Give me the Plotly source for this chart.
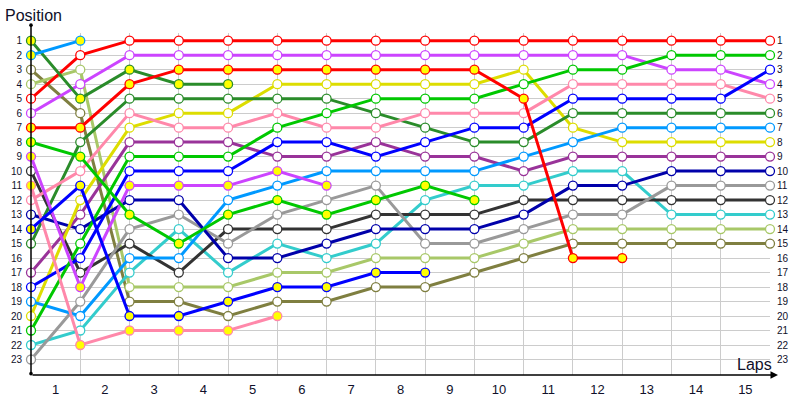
import plotly.graph_objects as go

# ---------------- data ----------------
laps = list(range(16))
x_tick_vals = [i + 0.5 for i in range(15)]
x_tick_labels = [str(i) for i in range(1, 16)]
y_tick_vals = list(range(1, 24))

# finishers (positions for laps 0..15)
pos_red = [5, 2, 1, 1, 1, 1, 1, 1, 1, 1, 1, 1, 1, 1, 1, 1]
pos_lime = [21, 15, 9, 9, 9, 7, 6, 5, 5, 5, 4, 3, 3, 2, 2, 2]
pos_blue = [18, 16, 10, 10, 10, 8, 8, 9, 8, 7, 7, 5, 5, 5, 5, 3]
pos_magenta = [6, 4, 2, 2, 2, 2, 2, 2, 2, 2, 2, 2, 2, 3, 3, 4]
pos_pink = [12, 10, 6, 7, 7, 6, 7, 7, 6, 6, 6, 4, 4, 4, 4, 5]
pos_forest = [15, 8, 5, 5, 5, 5, 5, 6, 7, 8, 8, 6, 6, 6, 6, 6]
pos_sky = [19, 20, 16, 16, 12, 11, 10, 10, 10, 10, 9, 8, 7, 7, 7, 7]
pos_yellow = [20, 12, 7, 6, 6, 4, 4, 4, 4, 4, 3, 7, 8, 8, 8, 8]
pos_purple = [17, 13, 8, 8, 8, 9, 9, 8, 9, 9, 10, 9, 9, 9, 9, 9]
pos_navy = [13, 14, 12, 12, 16, 16, 15, 14, 14, 14, 13, 11, 11, 10, 10, 10]
pos_gray = [23, 19, 14, 13, 15, 13, 12, 11, 15, 15, 14, 13, 13, 11, 11, 11]
pos_black = [10, 17, 15, 17, 14, 14, 14, 13, 13, 13, 12, 12, 12, 12, 12, 12]
pos_turquoise = [22, 21, 17, 14, 17, 15, 16, 15, 12, 11, 11, 10, 10, 13, 13, 13]
pos_lightolive = [4, 3, 18, 18, 18, 17, 17, 16, 16, 16, 15, 14, 14, 14, 14, 14]
pos_olive = [3, 6, 19, 19, 20, 19, 19, 18, 18, 17, 16, 15, 15, 15, 15, 15]

# retired drivers (positions from lap 0 until retirement)
pos_forest_dnf = [1, 5, 3, 4, 4]
pos_sky_dnf = [2, 1]
pos_red_dnf = [7, 7, 4, 3, 3, 3, 3, 3, 3, 3, 5, 16, 16]
pos_lime_dnf = [8, 9, 13, 15, 13, 12, 13, 12, 11, 12]
pos_magenta_dnf = [9, 18, 11, 11, 11, 10, 11]
pos_pink_dnf = [11, 22, 21, 21, 21, 20]
pos_blue_dnf = [14, 11, 20, 20, 19, 18, 18, 17, 17]

# colours
c_red = "#FF0000"
c_lime = "#00C800"
c_blue = "#0000FF"
c_magenta = "#CC44FF"
c_pink = "#FF88AA"
c_forest = "#2A8C2A"
c_sky = "#0099FF"
c_yellow = "#DDDD00"
c_purple = "#993399"
c_navy = "#0000AA"
c_gray = "#999999"
c_black = "#333333"
c_turquoise = "#33CCCC"
c_lightolive = "#A8C868"
c_olive = "#7F7F40"

finishers = [
    ("P15", c_olive, pos_olive),
    ("P14", c_lightolive, pos_lightolive),
    ("P13", c_turquoise, pos_turquoise),
    ("P12", c_black, pos_black),
    ("P11", c_gray, pos_gray),
    ("P10", c_navy, pos_navy),
    ("P9", c_purple, pos_purple),
    ("P8", c_yellow, pos_yellow),
    ("P7", c_sky, pos_sky),
    ("P6", c_forest, pos_forest),
    ("P5", c_pink, pos_pink),
    ("P4", c_magenta, pos_magenta),
    ("P3", c_blue, pos_blue),
    ("P2", c_lime, pos_lime),
    ("P1", c_red, pos_red),
]
retired = [
    ("DNF a", c_forest, pos_forest_dnf),
    ("DNF b", c_sky, pos_sky_dnf),
    ("DNF c", c_pink, pos_pink_dnf),
    ("DNF d", c_magenta, pos_magenta_dnf),
    ("DNF e", c_blue, pos_blue_dnf),
    ("DNF f", c_lime, pos_lime_dnf),
    ("DNF g", c_red, pos_red_dnf),
]

TXT = "#10102a"
FONT = "Liberation Sans"

fig = go.Figure()


def add(name, color, pos, fill):
    fig.add_trace(go.Scatter(
        x=laps[:len(pos)], y=pos, name=name, mode="lines+markers",
        line=dict(color=color, width=3),
        marker=dict(size=9, color=fill, line=dict(color=color, width=1.3)),
        cliponaxis=False, showlegend=False, hoverinfo="x+y+name"))


for n, c, p in finishers:
    add(n, c, p, "white")
for n, c, p in retired:
    add(n, c, p, "#FFFF00")

# dummy trace so the right-hand axis is drawn
fig.add_trace(go.Scatter(x=[None], y=[None], yaxis="y2", showlegend=False,
                         hoverinfo="skip"))

yr = [24.07, 0.47]
fig.update_layout(
    width=800, height=400,
    margin=dict(l=31, r=30, t=33, b=25, autoexpand=False),
    plot_bgcolor="white", paper_bgcolor="white",
    font=dict(family=FONT, color=TXT),
    xaxis=dict(range=[0, 15], tickmode="array", tickvals=x_tick_vals,
               ticktext=x_tick_labels, showgrid=False, zeroline=False,
               showline=False, ticks="", tickfont=dict(size=13, color=TXT),
               ticklabelstandoff=5, automargin=False,
               minor=dict(tickmode="array", tickvals=laps[1:], showgrid=True,
                          gridcolor="#CCCCCC", gridwidth=1, ticks="")),
    yaxis=dict(range=yr, tickmode="array", tickvals=y_tick_vals,
               showgrid=True, gridcolor="#CCCCCC", gridwidth=1,
               zeroline=False, showline=False, ticks="", automargin=False,
               tickfont=dict(size=10, color=TXT), ticklabelstandoff=8),
    yaxis2=dict(range=yr, overlaying="y", side="right", tickmode="array",
                tickvals=y_tick_vals, showgrid=False, zeroline=False,
                showline=False, ticks="", automargin=False,
                tickfont=dict(size=10, color=TXT), ticklabelstandoff=6),
)

# axis lines with arrow ends
fig.add_annotation(x=0, y=1.023, xref="paper", yref="paper", text="",
                   showarrow=True, ax=0, ay=350, axref="pixel", ayref="pixel",
                   arrowhead=6, arrowsize=0.6, arrowwidth=1.5, arrowcolor="black",
                   startarrowhead=6, startarrowsize=0.6, arrowside="end+start")
fig.add_annotation(x=1.0108, y=0, xref="paper", yref="paper", text="",
                   showarrow=True, ax=-747, ay=0, axref="pixel", ayref="pixel",
                   arrowhead=2, arrowsize=1, arrowwidth=1.5, arrowcolor="black")

fig.add_annotation(x=-0.0379, y=1.0526, xref="paper", yref="paper",
                   text="Position", showarrow=False, xanchor="left",
                   yanchor="middle", font=dict(size=16, color=TXT, family=FONT))
fig.add_annotation(x=1.0054, y=0.032, xref="paper", yref="paper",
                   text="Laps", showarrow=False, xanchor="right",
                   yanchor="middle", font=dict(size=16, color=TXT, family=FONT))

fig.write_html("out.html", config={"displayModeBar": False},
               post_script="document.body.style.margin='0';"
                           "document.body.style.overflow='hidden';")
